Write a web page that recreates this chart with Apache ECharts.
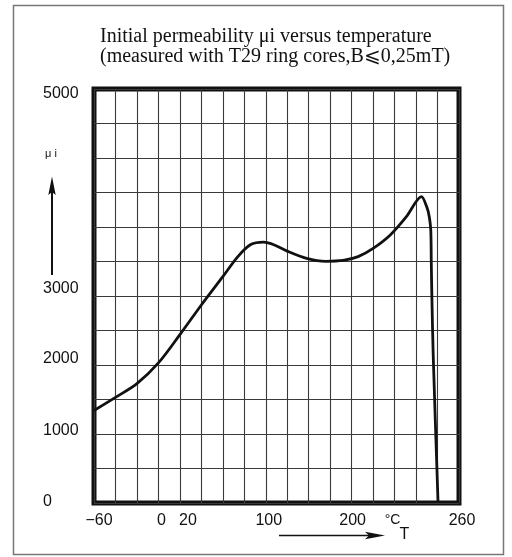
<!DOCTYPE html>
<html>
<head>
<meta charset="utf-8">
<title>Initial permeability versus temperature</title>
<script src="https://cdn.jsdelivr.net/npm/echarts@6.0.0/dist/echarts.min.js"></script>
<style>
  html, body { margin: 0; padding: 0; background: #fff; }
  #chart { width: 512px; height: 557px; }
</style>
</head>
<body>
<div id="chart"></div>
<script>
// curve (x in grid degC: one column = 20, y: one row = 500)
const temps = [-60, -40, -20, 0, 20, 40, 60, 74, 86, 98, 108, 120, 138, 156, 172, 186, 200, 216,
  231, 245, 250, 252.3, 253.7, 254.2, 254.8, 256, 260.5];
const mus = [1340, 1530, 1730, 2030, 2440, 2870, 3280, 3570, 3745, 3780, 3740, 3650, 3545, 3503, 3515, 3570, 3690, 3885,
  4150, 4440, 4290, 4150, 3960, 3470, 2940, 2130, 0];

// printed tick labels (the scan labels do not follow the grid evenly)
const xTickValues = [-60, 0, 20, 100, 180, 220, 280];
const xTickTexts = ['\u221260', '0', '20', '100', '200', '\u00b0C', '260'];
const yTickValues = [0, 1000, 2000, 3000, 6000];
const yTickTexts = ['0', '1000', '2000', '3000', '5000'];

const titleLines = [
  'Initial permeability \u03bci versus temperature',
  '(measured with T29 ring cores,B\u2a7d0,25mT)',
];

// small per label shifts so the text sits like on the scan (px, + = right / down)
const xNudge = { '-60': 5, '0': 3, '20': 8, '100': 3, '180': 1, '220': -2, '280': 3 };
const yNudge = { '0': -1, '1000': -3, '2000': -6, '3000': -7, '6000': 5 };

function xRich() {
  const rich = {};
  xTickValues.forEach((v, i) => {
    const d = xNudge[String(v)] || 0;
    rich['x' + i] = {
      fontSize: v === 220 ? 14 : 16,
      padding: d >= 0 ? [0, 0, 0, 2 * d] : [0, -2 * d, 0, 0],
    };
  });
  return rich;
}

function yRich() {
  const rich = {};
  yTickValues.forEach((v, i) => {
    const d = yNudge[String(v)] || 0;
    rich['y' + i] = {
      fontSize: 16,
      padding: d >= 0 ? [2 * d, 0, 0, 0] : [0, 0, -2 * d, 0],
    };
  });
  return rich;
}

const chart = echarts.init(document.getElementById('chart'), null, { renderer: 'canvas' });

chart.setOption({
  backgroundColor: '#fff',
  animation: false,
  title: {
    text: titleLines.join('\n'),
    left: 100,
    top: 26.5,
    padding: 0,
    textStyle: {
      fontFamily: '"Liberation Serif", "DejaVu Serif", serif',
      fontSize: 20,
      fontWeight: 'normal',
      color: '#111',
      lineHeight: 20,
    },
  },
  grid: {
    left: 94,
    right: 53,
    top: 89,
    bottom: 54,
    show: true,
    borderWidth: 5,
    borderColor: '#111',
    backgroundColor: 'transparent',
  },
  xAxis: {
    type: 'value',
    min: -60,
    max: 280,
    interval: 20,
    axisLine: { show: false },
    axisTick: { show: false },
    splitLine: { show: true, lineStyle: { color: '#3a3a3a', width: 1.1 } },
    axisLabel: {
      margin: 10,
      color: '#111',
      fontFamily: '"Liberation Sans", Arial, sans-serif',
      fontSize: 16,
      rich: xRich(),
      formatter(value) {
        const i = xTickValues.indexOf(value);
        return i < 0 ? '' : '{x' + i + '|' + xTickTexts[i] + '}';
      },
    },
  },
  yAxis: {
    type: 'value',
    min: 0,
    max: 6000,
    interval: 500,
    axisLine: { show: false },
    axisTick: { show: false },
    splitLine: { show: true, lineStyle: { color: '#3a3a3a', width: 1.1 } },
    axisLabel: {
      margin: 51,
      align: 'left',
      color: '#111',
      fontFamily: '"Liberation Sans", Arial, sans-serif',
      fontSize: 16,
      rich: yRich(),
      formatter(value) {
        const i = yTickValues.indexOf(value);
        return i < 0 ? '' : '{y' + i + '|' + yTickTexts[i] + '}';
      },
    },
  },
  series: [
    {
      type: 'line',
      data: temps.map((t, i) => [t, mus[i]]),
      showSymbol: false,
      smooth: 0.3,
      lineStyle: { color: '#111', width: 2.8 },
      z: 5,
    },
  ],
  graphic: [
    {
      type: 'rect',
      shape: { x: 13.5, y: 5.5, width: 490, height: 549 },
      style: { fill: null, stroke: '#777', lineWidth: 1.5 },
      silent: true,
    },
    {
      type: 'line',
      shape: { x1: 52, y1: 190, x2: 52, y2: 275 },
      style: { stroke: '#111', lineWidth: 2 },
    },
    {
      type: 'polygon',
      shape: { points: [[52, 176.5], [48.3, 195], [52, 192], [55.7, 195]] },
      style: { fill: '#111' },
    },
    {
      type: 'text',
      x: 45,
      y: 148,
      style: { text: '\u03bc i', fill: '#111', font: '11px "Liberation Sans", Arial, sans-serif' },
    },
    {
      type: 'line',
      shape: { x1: 279, y1: 535.5, x2: 372, y2: 535.5 },
      style: { stroke: '#111', lineWidth: 1.6 },
    },
    {
      type: 'polygon',
      shape: { points: [[385, 535.5], [365, 531.8], [369, 535.5], [365, 539.2]] },
      style: { fill: '#111' },
    },
    {
      type: 'text',
      x: 404.5,
      y: 535,
      style: {
        text: 'T',
        fill: '#111',
        font: '16px "Liberation Sans", Arial, sans-serif',
        align: 'center',
        verticalAlign: 'middle',
      },
    },
  ],
});
</script>
</body>
</html>
